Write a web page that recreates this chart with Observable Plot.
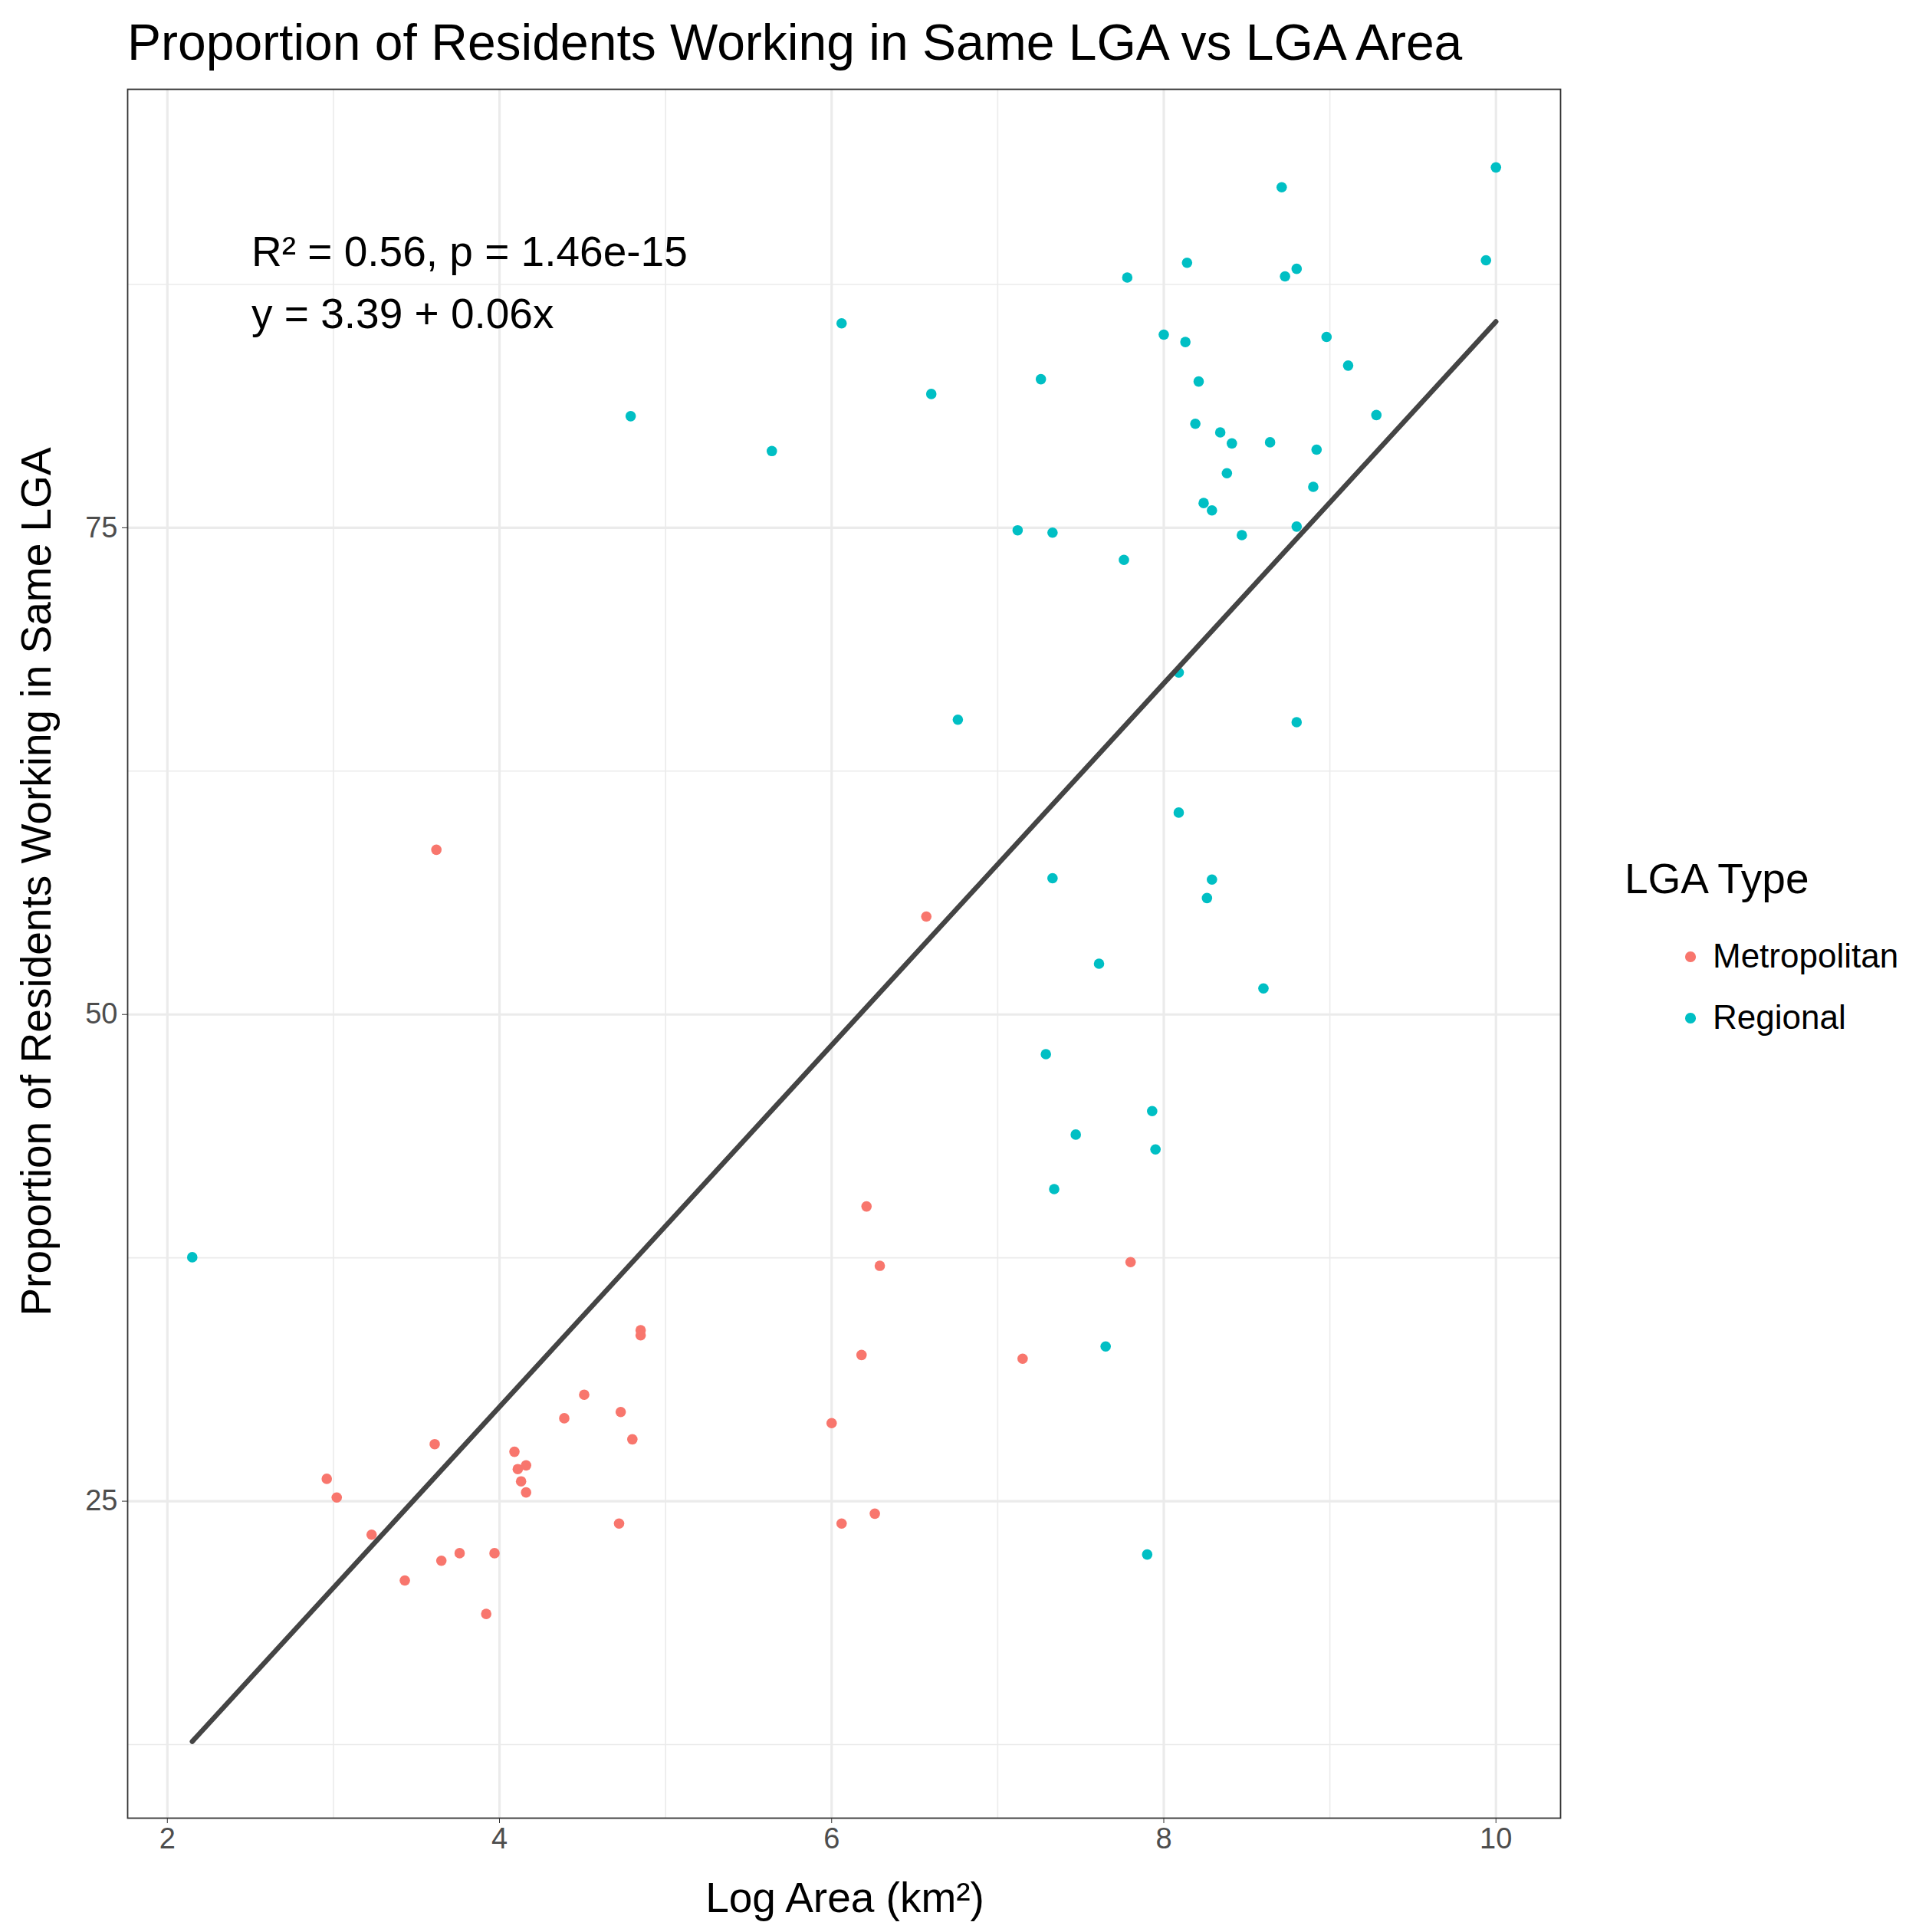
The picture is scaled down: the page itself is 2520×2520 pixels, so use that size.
<!DOCTYPE html>
<html><head><meta charset="utf-8">
<script src="https://cdn.jsdelivr.net/npm/d3@7"></script>
<script src="https://cdn.jsdelivr.net/npm/@observablehq/plot@0.6"></script>
<style>
body{margin:0;background:#fff;font-family:Arial,"Liberation Sans",sans-serif;}
#wrap{position:relative;width:2520px;height:2520px;}
.t{position:absolute;white-space:nowrap;color:#000;line-height:1.15;}
</style></head><body><div id="wrap"></div>
<script>
const metroX=[3.62,6.57,6.21,6.29,7.80,4.85,4.85,6.18,7.15,4.51,4.39,4.73,6.00,4.80,3.61,4.09,2.96,4.11,4.16,4.13,4.16,3.02,3.23,4.72,6.06,6.26,3.76,3.97,3.65,3.43,3.92];
const metroY=[58.46,55.03,40.14,37.09,37.28,33.78,33.52,32.51,32.32,30.47,29.26,29.58,29.01,28.18,27.93,27.54,26.15,26.65,26.84,26.02,25.45,25.19,23.28,23.85,23.85,24.36,22.33,22.33,21.94,20.93,19.21];
const regX=[2.15,4.79,5.64,6.06,6.60,6.76,7.12,7.33,7.26,7.76,7.78,8.00,8.13,8.14,8.21,8.19,8.34,8.41,8.38,8.24,8.29,8.47,8.64,8.71,8.73,8.80,8.98,8.92,8.90,8.80,9.11,9.28,9.94,10.00,8.09,8.80,8.09,7.33,8.29,8.26,7.61,8.60,7.29,7.93,7.47,7.95,7.34,7.65,7.90];
const regY=[37.53,80.73,78.94,85.50,81.87,65.14,74.87,74.75,82.63,73.35,87.85,84.92,84.54,88.61,82.51,80.34,79.90,79.33,77.80,76.27,75.89,74.62,79.39,92.49,87.91,88.30,84.80,79.01,77.10,75.06,83.33,80.79,88.74,93.51,67.56,65.01,60.37,57.00,56.93,55.98,52.61,51.34,47.96,45.04,43.83,43.07,41.03,32.95,22.26];
const types=["Metropolitan","Regional"];
const colors=["#F8766D","#00BFC4"];
const xMajor=[2,4,6,8,10], xMinor=[3,5,7,9];
const yMajor=[25,50,75], yMinor=[12.5,37.5,62.5,87.5];
const title="Proportion of Residents Working in Same LGA vs LGA Area";
const annot=["R² = 0.56, p = 1.46e-15","y = 3.39 + 0.06x"];

const data=[...metroX.map((x,i)=>({x,y:metroY[i],t:types[0]})),...regX.map((x,i)=>({x,y:regY[i],t:types[1]}))];
const svg=Plot.plot({
  width:2520,height:2520,marginLeft:166,marginRight:485,marginTop:116,marginBottom:149,
  style:{fontFamily:"Arial, 'Liberation Sans', sans-serif",fontSize:"38px",color:"#4d4d4d",background:"#fff"},
  x:{domain:[1.761,10.389]},
  y:{domain:[8.72,97.52]},
  color:{domain:types,range:colors},
  marks:[
    Plot.ruleX(xMinor,{stroke:"#ebebeb",strokeWidth:1.6}),
    Plot.ruleY(yMinor,{stroke:"#ebebeb",strokeWidth:1.6}),
    Plot.ruleX(xMajor,{stroke:"#ebebeb",strokeWidth:3.2}),
    Plot.ruleY(yMajor,{stroke:"#ebebeb",strokeWidth:3.2}),
    Plot.axisX(xMajor,{tickSize:7,tickPadding:6,fontSize:38,fill:"#4d4d4d",stroke:"#333",label:null,tickFormat:d=>String(d)}),
    Plot.axisY(yMajor,{tickSize:7,tickPadding:6,fontSize:38,fill:"#4d4d4d",stroke:"#333",label:null,tickFormat:d=>String(d)}),
    Plot.dot(data,{x:"x",y:"y",fill:"t",r:6.8,stroke:null}),
    Plot.linearRegressionY(data,{x:"x",y:"y",stroke:"#444",strokeWidth:6.5,ci:0}),
    Plot.frame({stroke:"#333",strokeWidth:1.8})
  ]
});
const wrap=document.getElementById("wrap");
wrap.appendChild(svg);svg.style.position="absolute";svg.style.left="0";svg.style.top="0";
function txt(s,x,y,size,extra){const d=document.createElement("div");d.className="t";d.textContent=s;d.style.left=x+"px";d.style.top=y+"px";d.style.fontSize=size+"px";if(extra)Object.assign(d.style,extra);wrap.appendChild(d);return d;}
txt(title,166,18,66);
txt(annot[0],328,297,55);
txt(annot[1],328,378,55);
txt("Log Area (km²)",1102,2444,55,{transform:"translateX(-50%)"});
txt("Proportion of Residents Working in Same LGA",48,1150,55,{transform:"translate(-50%,-50%) rotate(-90deg)"});
txt("LGA Type",2119,1115,55);
types.forEach((t,i)=>{
  const y=[1248,1328][i];
  const c=document.createElement("div");c.style.cssText=`position:absolute;left:${2205-6.8}px;top:${y-6.8}px;width:13.6px;height:13.6px;border-radius:50%;background:${colors[i]}`;wrap.appendChild(c);
  txt(t,2234,y-26,44);
});
</script></body></html>
